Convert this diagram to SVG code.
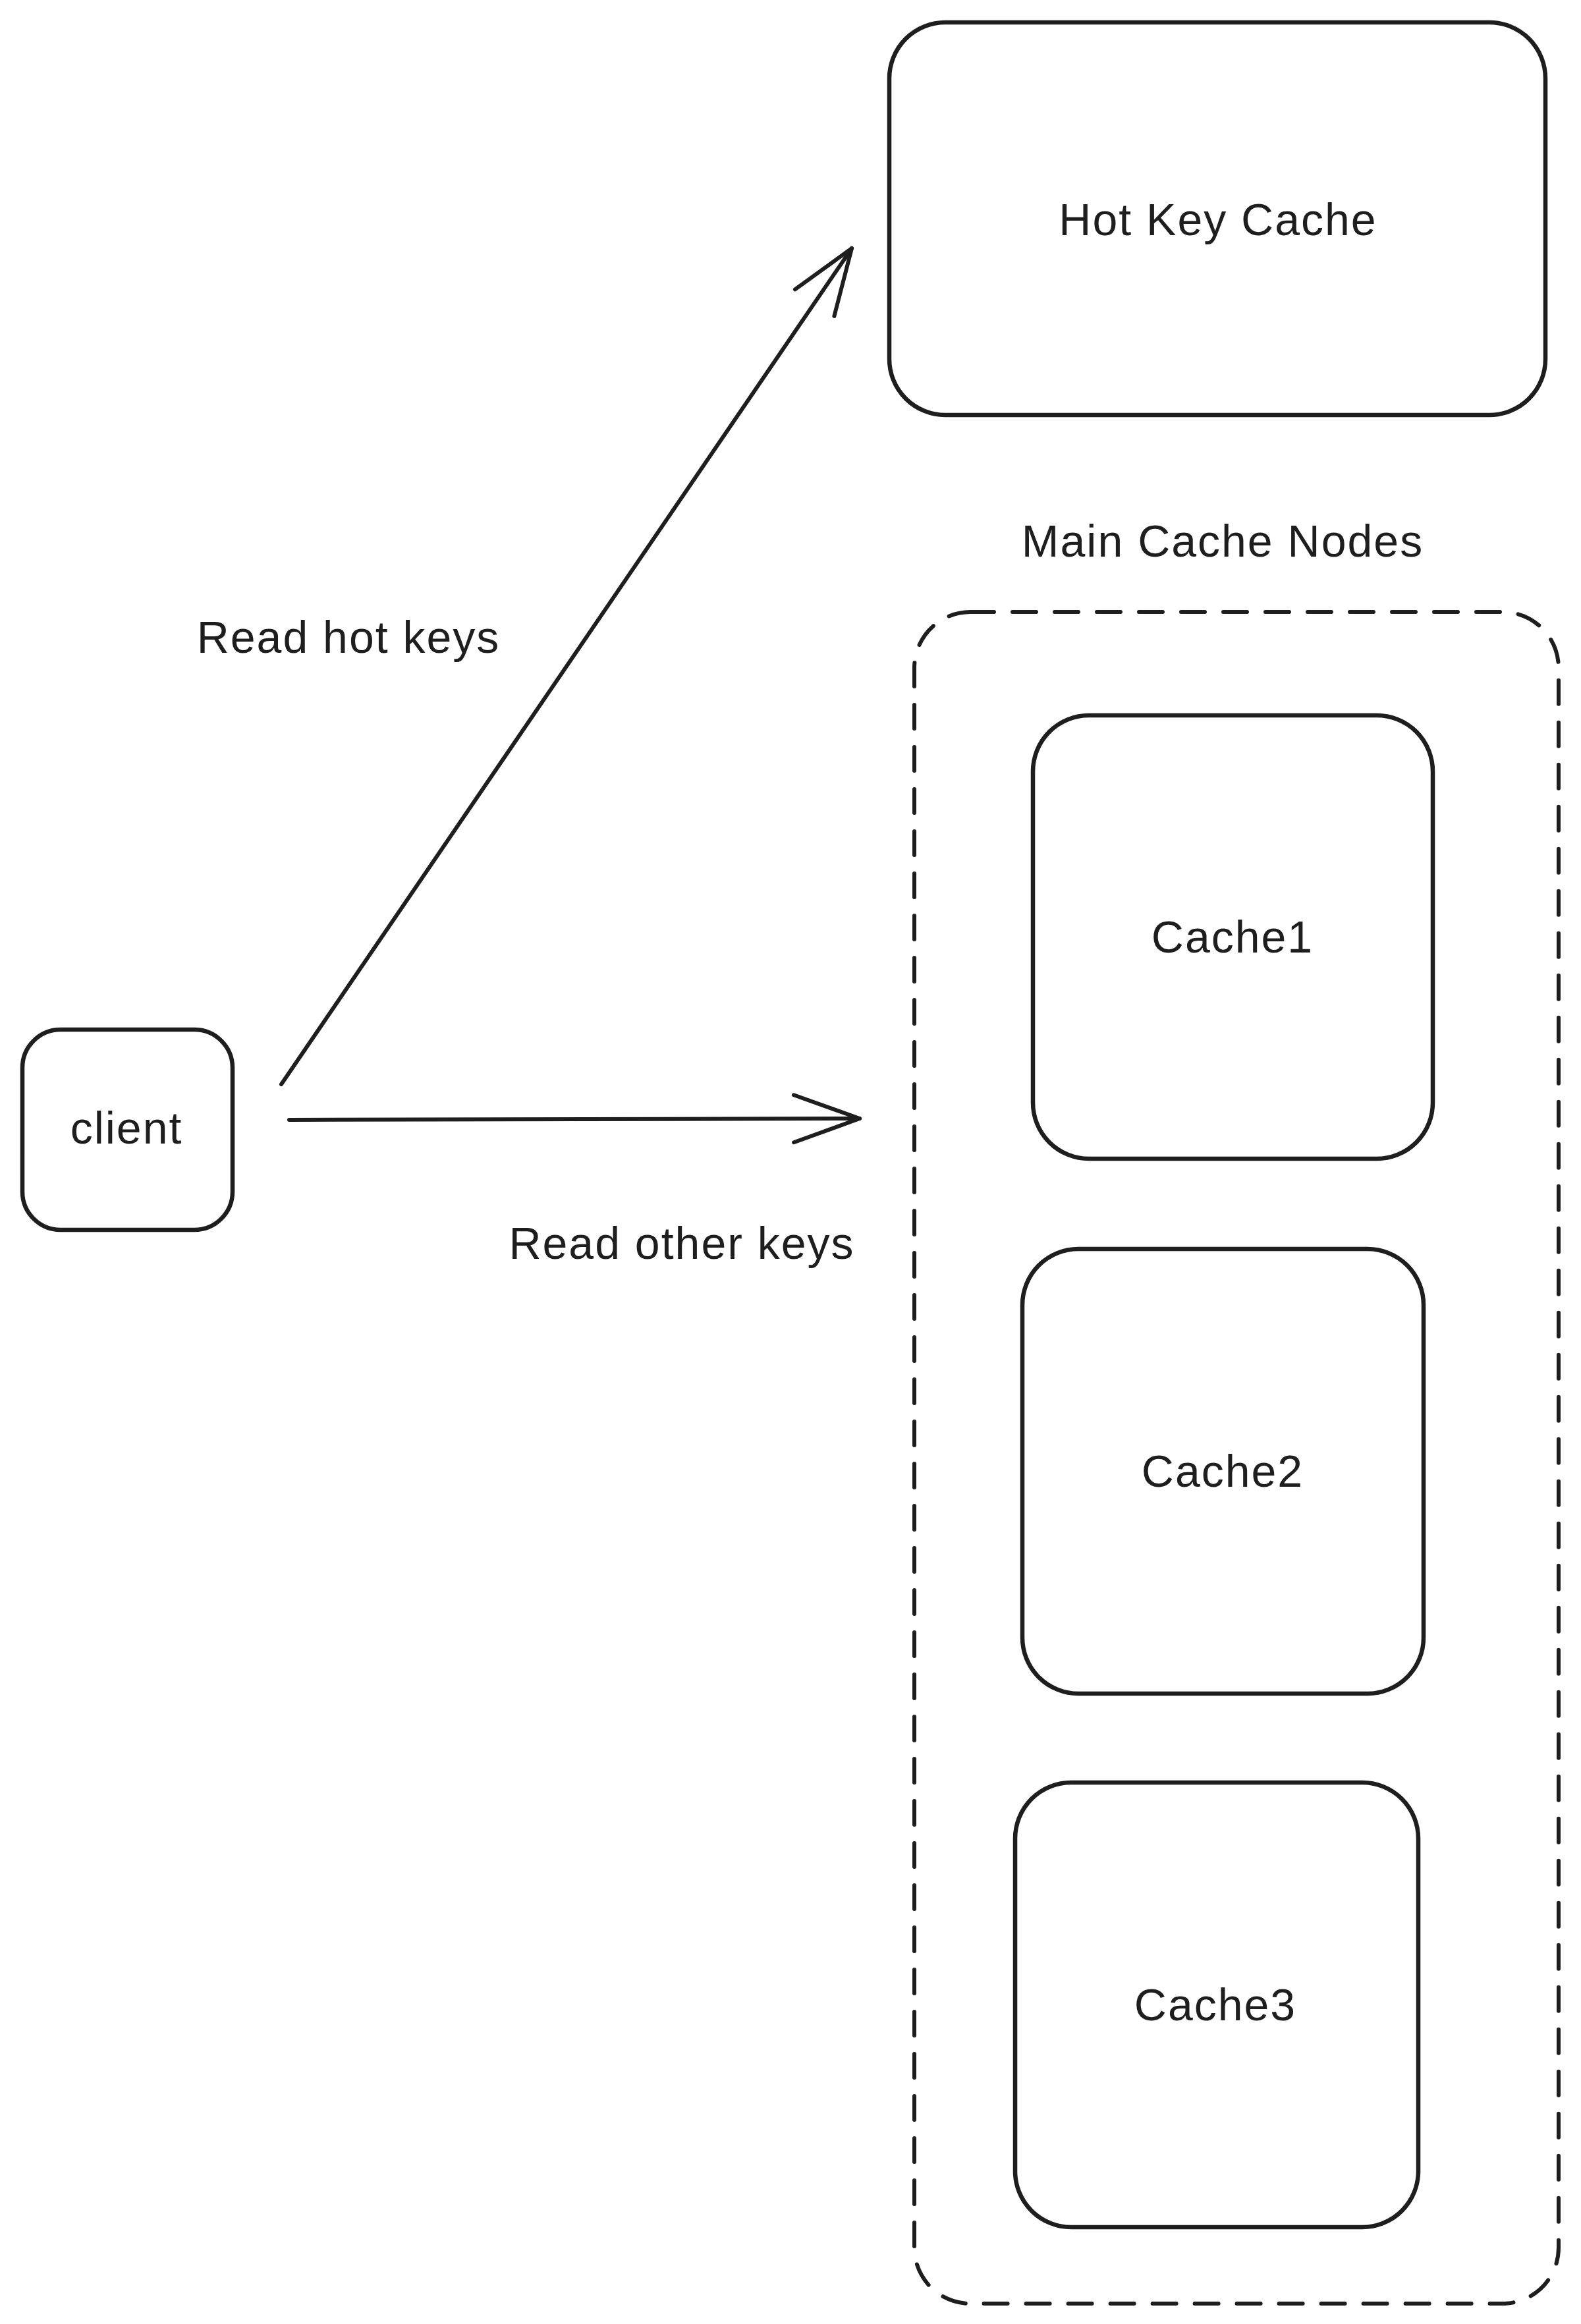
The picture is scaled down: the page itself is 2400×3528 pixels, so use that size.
<svg xmlns="http://www.w3.org/2000/svg" width="2400" height="3528" viewBox="0 0 2400 3528">
  <style>
    .box { fill: #ffffff; stroke: #1e1e1e; stroke-width: 6.5; }
    .dash { fill: none; stroke: #1e1e1e; stroke-width: 6; stroke-dasharray: 36 28; stroke-linecap: round; }
    .lbl { font-family: "Liberation Sans", Arial, sans-serif; font-size: 68px; fill: #1e1e1e; text-anchor: middle; dominant-baseline: central; letter-spacing: 2px; }
    .edge { fill: none; stroke: #1e1e1e; stroke-width: 6; stroke-linecap: round; marker-end: url(#arrow); }
  </style>
  <defs>
    <marker id="arrow" markerUnits="userSpaceOnUse" viewBox="-110 -50 120 100" markerWidth="120" markerHeight="100" refX="0" refY="0" orient="auto">
      <path d="M -100 -36 L 0 0 L -100 36" fill="none" stroke="#1e1e1e" stroke-width="6" stroke-linecap="round" stroke-linejoin="round"/>
    </marker>
  </defs>
  <rect width="2400" height="3528" fill="#ffffff"/>

  <g id="main-cache-nodes">
    <rect class="dash" x="1388" y="929" width="978" height="2568" rx="85" ry="85"/>
    <text class="lbl" x="1856" y="821">Main Cache Nodes</text>
  </g>

  <g id="hot-key-cache">
    <rect class="box" x="1350" y="34" width="996" height="596" rx="85" ry="85"/>
    <text class="lbl" x="1849" y="333">Hot Key Cache</text>
  </g>

  <g id="client">
    <rect class="box" x="34" y="1563" width="319" height="304" rx="58" ry="58"/>
    <text class="lbl" x="192" y="1712">client</text>
  </g>

  <g id="cache1">
    <rect class="box" x="1568" y="1086" width="607" height="673" rx="85" ry="85"/>
    <text class="lbl" x="1871" y="1422">Cache1</text>
  </g>

  <g id="cache2">
    <rect class="box" x="1552" y="1896" width="609" height="675" rx="85" ry="85"/>
    <text class="lbl" x="1856" y="2233">Cache2</text>
  </g>

  <g id="cache3">
    <rect class="box" x="1541" y="2706" width="612" height="675" rx="85" ry="85"/>
    <text class="lbl" x="1845" y="3043">Cache3</text>
  </g>

  <g id="connectors">
    <path class="edge" d="M 427 1646 L 1293 377"/>
    <path class="edge" d="M 439 1700 L 1305 1698"/>
    <text class="lbl" x="529" y="967">Read hot keys</text>
    <text class="lbl" x="1035" y="1887">Read other keys</text>
  </g>
</svg>
